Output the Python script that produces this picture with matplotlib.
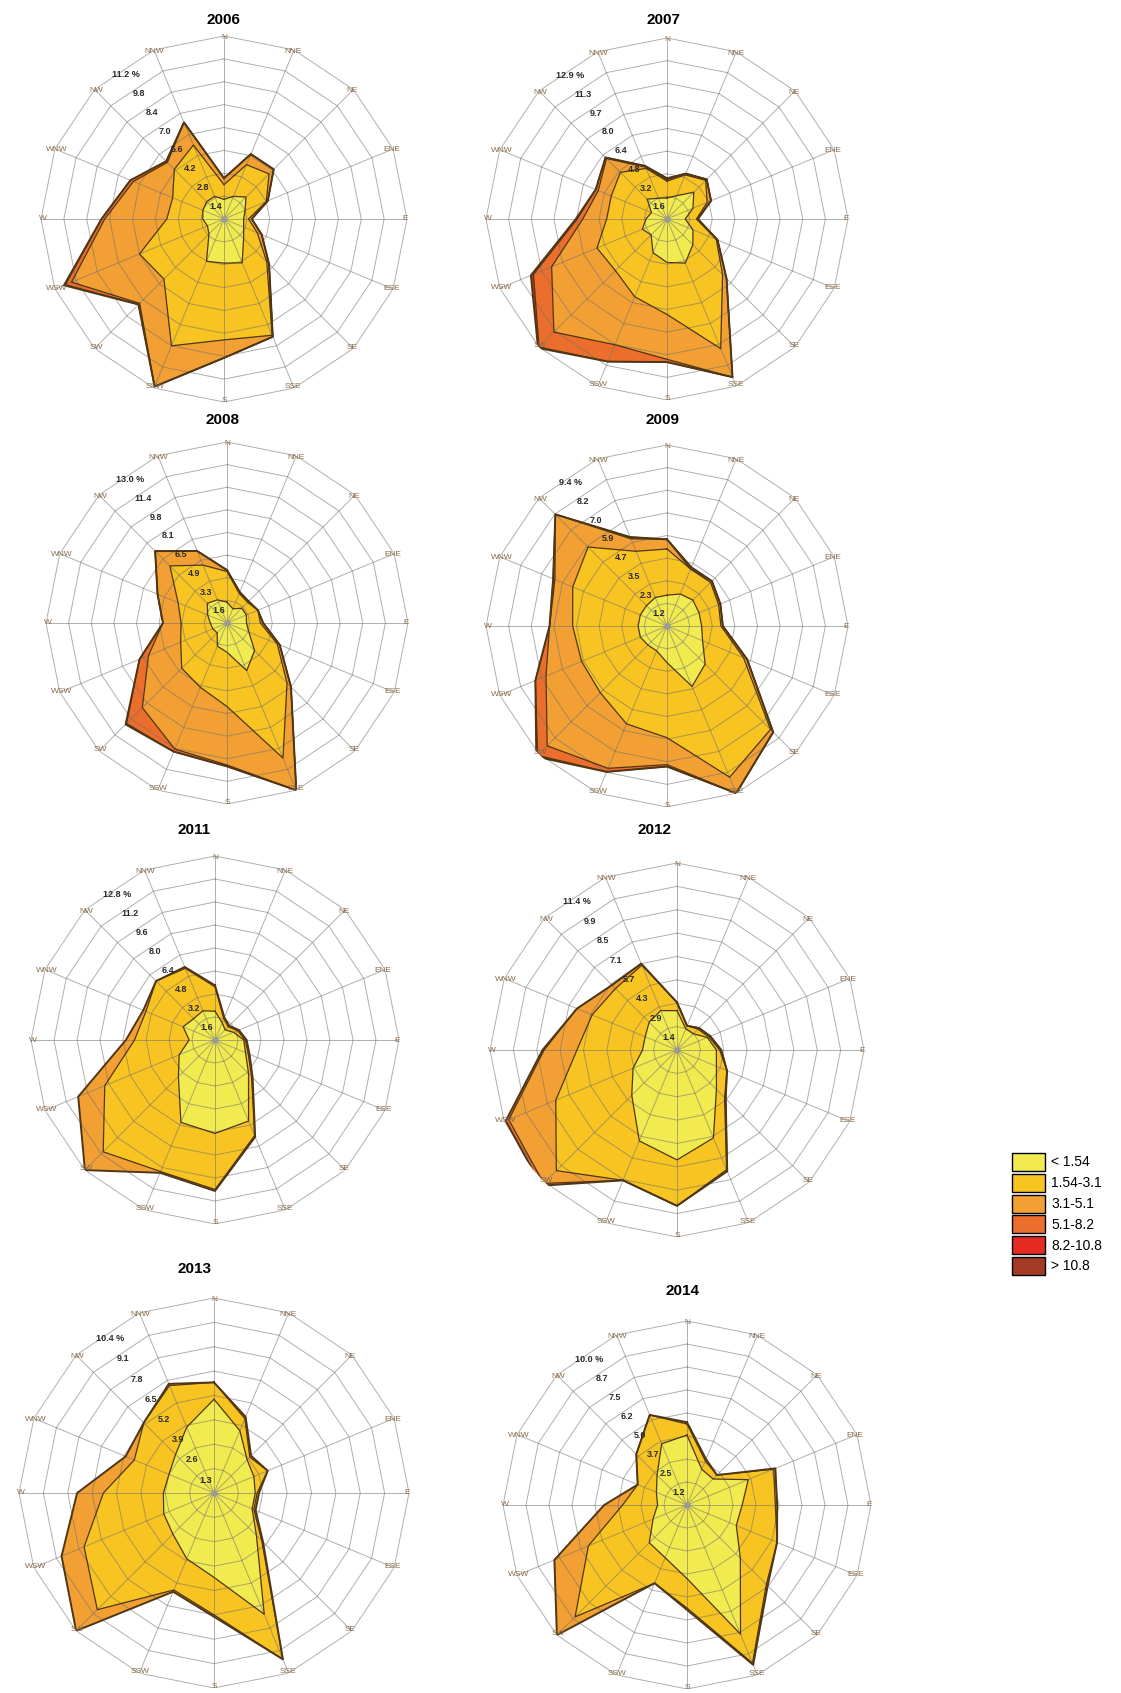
import numpy as np
import matplotlib
matplotlib.use('Agg')
import matplotlib.pyplot as plt
from matplotlib.patches import Rectangle

plt.rcParams['font.family'] = ['Liberation Sans', 'DejaVu Sans']

W, H = 1121, 1693

## data -----------------------------------------------------------------
dirs = ['N', 'NNE', 'NE', 'ENE', 'E', 'ESE', 'SE', 'SSE',
        'S', 'SSW', 'SW', 'WSW', 'W', 'WNW', 'NW', 'NNW']
classes = ['< 1.54', '1.54-3.1', '3.1-5.1', '5.1-8.2', '8.2-10.8', '> 10.8']
colors = ['#F1EB50', '#F7C422', '#F2A033', '#EC6E2C', '#E42A22', '#A43A26']

# cumulative frequency (%) up to each speed class, one row per class
r2006 = [[1.2, 1.5, 1.9, 1.4, 1.2, 1.3, 1.7, 2.9, 2.7, 2.8, 1.3, 1.1, 1.3, 1.4, 1.5, 1.5],
         [2.1, 3.6, 3.9, 2.8, 1.5, 2.2, 3.7, 7.7, 7.4, 8.4, 5.2, 5.6, 3.5, 3.4, 4.3, 4.9],
         [2.5, 4.3, 4.3, 2.9, 1.7, 2.5, 3.9, 7.8, 8.5, 11.1, 7.3, 10.1, 7.3, 6.0, 4.9, 6.4],
         [2.5, 4.3, 4.3, 2.9, 1.7, 2.5, 3.9, 7.8, 8.5, 11.1, 7.4, 10.5, 7.5, 6.2, 5.0, 6.4],
         [2.5, 4.3, 4.3, 2.9, 1.7, 2.5, 3.9, 7.8, 8.5, 11.1, 7.4, 10.6, 7.5, 6.2, 5.0, 6.4]]
r2007 = [[1.5, 1.8, 2.7, 2.0, 1.3, 2.0, 2.6, 3.4, 3.1, 2.6, 1.6, 1.9, 1.5, 1.2, 2.0, 1.6],
         [2.7, 3.4, 3.9, 3.1, 2.1, 3.8, 5.6, 10.0, 6.8, 6.0, 5.2, 5.4, 4.3, 4.3, 4.7, 3.9],
         [2.8, 3.5, 4.0, 3.4, 2.2, 3.9, 6.0, 12.2, 10.0, 9.7, 11.4, 8.9, 6.0, 5.3, 6.1, 4.0],
         [2.9, 3.5, 4.0, 3.4, 2.2, 3.9, 6.0, 12.2, 10.2, 11.0, 12.9, 10.3, 6.4, 5.5, 6.2, 4.1],
         [2.9, 3.5, 4.0, 3.4, 2.2, 3.9, 6.0, 12.2, 10.2, 11.0, 13.0, 10.5, 6.5, 5.5, 6.2, 4.1]]
r2008 = [[1.5, 1.1, 1.5, 1.5, 1.4, 1.7, 2.8, 3.7, 2.1, 1.8, 1.0, 1.1, 1.2, 1.5, 2.0, 1.8],
         [3.7, 2.3, 2.1, 2.4, 2.4, 3.9, 6.1, 10.5, 6.0, 5.0, 4.6, 3.6, 3.3, 3.8, 5.8, 4.5],
         [3.8, 2.4, 2.2, 2.4, 2.6, 4.1, 6.5, 13.0, 10.2, 9.8, 8.6, 6.1, 4.6, 5.4, 7.3, 5.6],
         [3.8, 2.4, 2.2, 2.4, 2.6, 4.1, 6.5, 13.0, 10.3, 10.0, 10.2, 6.8, 4.6, 5.4, 7.3, 5.6],
         [3.8, 2.4, 2.2, 2.4, 2.6, 4.1, 6.5, 13.0, 10.3, 10.0, 10.3, 6.8, 4.6, 5.4, 7.3, 5.6]]
r2009 = [[1.6, 1.8, 1.9, 1.8, 1.8, 2.0, 2.8, 3.4, 1.9, 1.4, 1.4, 1.5, 1.5, 1.5, 1.5, 1.6],
         [4.0, 3.2, 3.2, 2.9, 2.8, 4.3, 7.6, 8.5, 5.8, 5.5, 4.9, 4.8, 4.9, 5.3, 5.8, 4.2],
         [4.5, 3.2, 3.3, 3.0, 2.9, 4.5, 7.8, 9.4, 7.2, 8.0, 8.8, 6.8, 6.1, 6.3, 8.2, 4.9],
         [4.5, 3.3, 3.3, 3.0, 2.9, 4.5, 7.8, 9.4, 7.3, 8.2, 9.5, 7.4, 6.1, 6.4, 8.2, 5.0],
         [4.5, 3.3, 3.3, 3.0, 2.9, 4.5, 7.8, 9.4, 7.3, 8.2, 9.6, 7.4, 6.1, 6.4, 8.2, 5.0]]
r2011 = [[2.0, 1.3, 1.0, 1.4, 2.0, 2.3, 3.3, 6.1, 6.5, 6.2, 3.6, 2.7, 1.8, 2.4, 2.1, 2.2],
         [3.7, 1.6, 1.3, 1.7, 2.1, 2.5, 3.6, 7.2, 10.4, 9.9, 11.0, 8.3, 5.6, 5.2, 5.8, 5.4],
         [3.8, 1.7, 1.4, 1.8, 2.2, 2.6, 3.7, 7.3, 10.5, 10.0, 12.8, 10.3, 6.2, 5.4, 5.8, 5.5]]
r2012 = [[2.4, 1.4, 1.4, 2.0, 2.4, 2.6, 3.4, 5.8, 6.7, 6.0, 3.9, 2.9, 2.1, 2.1, 2.4, 2.6],
         [2.9, 1.6, 1.8, 2.1, 2.6, 3.3, 4.1, 7.9, 9.5, 8.6, 10.4, 8.0, 6.1, 5.6, 5.3, 5.6],
         [2.9, 1.6, 1.9, 2.2, 2.7, 3.3, 4.2, 8.0, 9.5, 8.6, 11.5, 11.1, 8.1, 6.6, 5.6, 5.7],
         [2.9, 1.6, 1.9, 2.2, 2.7, 3.3, 4.2, 8.0, 9.5, 8.6, 11.7, 11.3, 8.2, 6.6, 5.6, 5.7]]
r2013 = [[5.0, 3.6, 2.5, 2.3, 2.2, 2.2, 3.2, 7.0, 4.5, 3.8, 3.1, 2.9, 2.7, 2.6, 2.9, 3.8],
         [5.9, 4.3, 2.7, 3.1, 2.3, 2.3, 3.6, 9.6, 6.5, 5.6, 8.8, 7.5, 5.9, 4.6, 5.3, 6.2],
         [5.9, 4.4, 2.8, 3.1, 2.4, 2.4, 3.7, 9.6, 6.6, 5.7, 10.4, 8.8, 7.3, 5.1, 5.3, 6.3]]
r2014 = [[3.8, 2.1, 2.0, 3.6, 3.0, 2.9, 4.1, 7.6, 4.0, 3.1, 2.9, 2.0, 1.6, 1.8, 2.3, 3.6],
         [4.4, 2.6, 2.3, 5.1, 4.8, 5.3, 6.1, 9.3, 5.6, 4.6, 8.6, 5.8, 3.5, 2.9, 3.9, 5.3],
         [4.5, 2.7, 2.3, 5.2, 4.9, 5.3, 6.2, 9.4, 5.7, 4.6, 10.0, 7.8, 4.5, 2.9, 3.9, 5.3]]

rings2006 = ['1.4', '2.8', '4.2', '5.6', '7.0', '8.4', '9.8', '11.2 %']
rings2007 = ['1.6', '3.2', '4.8', '6.4', '8.0', '9.7', '11.3', '12.9 %']
rings2008 = ['1.6', '3.3', '4.9', '6.5', '8.1', '9.8', '11.4', '13.0 %']
rings2009 = ['1.2', '2.3', '3.5', '4.7', '5.9', '7.0', '8.2', '9.4 %']
rings2011 = ['1.6', '3.2', '4.8', '6.4', '8.0', '9.6', '11.2', '12.8 %']
rings2012 = ['1.4', '2.9', '4.3', '5.7', '7.1', '8.5', '9.9', '11.4 %']
rings2013 = ['1.3', '2.6', '3.9', '5.2', '6.5', '7.8', '9.1', '10.4 %']
rings2014 = ['1.2', '2.5', '3.7', '5.0', '6.2', '7.5', '8.7', '10.0 %']

years = ['2006', '2007', '2008', '2009', '2011', '2012', '2013', '2014']
roses = [r2006, r2007, r2008, r2009, r2011, r2012, r2013, r2014]
rings = [rings2006, rings2007, rings2008, rings2009,
         rings2011, rings2012, rings2013, rings2014]

# panel layout in pixels: centre x, centre y, outer radius, title x, title y
layout = [(224, 219, 183, 223, 20), (667, 219, 181, 663, 20),
          (227, 623, 181, 223, 420), (667, 626, 181, 662, 420),
          (215, 1040, 184, 194, 830), (677, 1050, 187, 654, 830),
          (214, 1493, 195, 194, 1269), (687, 1505, 184, 682, 1291)]

## drawing --------------------------------------------------------------
fig = plt.figure(figsize=(W / 100, H / 100), dpi=100)
fig.patch.set_facecolor('white')

th = np.deg2rad(np.arange(16) * 22.5)
thc = np.append(th, th[0])

for year, rose, rl, (cx, cy, R, tx, ty) in zip(years, roses, rings, layout):
    ax = fig.add_axes([(cx - R) / W, 1 - (cy + R) / H, 2 * R / W, 2 * R / H],
                      projection='polar')
    ax.set_theta_zero_location('N')
    ax.set_theta_direction(-1)
    rmax = float(rl[-1].split()[0])
    step = rmax / 8
    ax.set_ylim(0, rmax)
    ax.set_xticks([])
    ax.set_yticks([])
    ax.grid(False)
    ax.spines['polar'].set_visible(False)
    ax.patch.set_alpha(0)

    # filled layers, outer class first
    for i in range(len(rose) - 1, -1, -1):
        v = np.array(rose[i])
        ax.fill(thc, np.append(v, v[0]), facecolor=colors[i],
                edgecolor='none', zorder=2)

    # polygonal grid
    for k in range(1, 9):
        ax.plot(thc, [k * step] * 17, color='#6e6e6e', lw=0.7, alpha=0.55, zorder=3)
    for t in th:
        ax.plot([t, t], [0, rmax], color='#6e6e6e', lw=0.7, alpha=0.55, zorder=3)

    # layer outlines
    for i in range(len(rose)):
        v = np.array(rose[i])
        lw = 1.4 if i == len(rose) - 1 else 0.9
        ax.plot(thc, np.append(v, v[0]), color='#4e3616', lw=lw, zorder=4)

    ax.plot(0, 0, 'o', ms=3.5, color='#9a9a9a', zorder=5)

    for t, d in zip(th, dirs):
        ax.text(t, rmax * 0.99, d, ha='center', va='center', fontsize=6,
                color='#8a6a48', clip_on=False, zorder=7)
    for k, lab in enumerate(rl):
        ax.text(np.deg2rad(-34), (k + 1 - 0.36) * step, lab, ha='center',
                va='center', fontsize=6.5, fontweight='bold', color='#2a2a2a',
                zorder=8)

# titles and legend on an overlay in pixel units
ov = fig.add_axes([0, 0, 1, 1])
ov.set_xlim(0, W)
ov.set_ylim(H, 0)
ov.axis('off')
ov.patch.set_alpha(0)

for year, (cx, cy, R, tx, ty) in zip(years, layout):
    ov.text(tx, ty, year, ha='center', va='center', fontsize=11,
            fontweight='bold', color='black')

for i, lab in enumerate(classes):
    y0 = 1153 + i * 20.8
    ov.add_patch(Rectangle((1012, y0), 33, 18, facecolor=colors[i],
                           edgecolor='black', lw=1.0))
    ov.text(1051, y0 + 9.5, lab, ha='left', va='center', fontsize=10,
            color='black')

fig.savefig('out.png', dpi=100, facecolor='white')
